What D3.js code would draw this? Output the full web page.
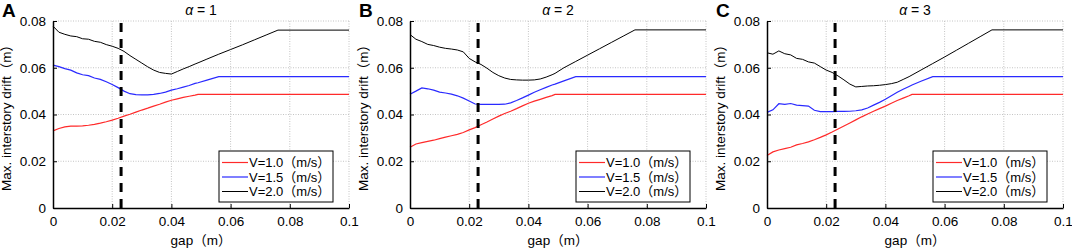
<!DOCTYPE html>
<html>
<head>
<meta charset="utf-8">
<script src="https://cdn.jsdelivr.net/npm/d3@7"></script>
<style>
  body { margin: 0; background: #fff; }
  svg { display: block; font-family: "Liberation Sans", Arial, "Noto Sans CJK JP", sans-serif; }
</style>
</head>
<body>
<div id="chart"></div>
<script>
// shared gap grid (m)
const gap = [0, .002, .004, .006, .008, .010, .012, .014, .016, .018, .020, .022, .024, .026, .028, .030, .032, .034,
  .036, .038, .040, .042, .044, .046, .048, .049, .052, .056, .060, .064, .068, .072, .076, .100];

// alpha = 1
const a1_v10 = [.0330, .0340, .0347, .0350, .0350, .0351, .0354, .0358, .0363, .0369, .0376, .0384, .0393, .0401, .0410, .0419, .0427, .0436,
  .0444, .0453, .0461, .0467, .0473, .0478, .0483, .0486, .0486, .0486, .0486, .0486, .0486, .0486, .0486, .0486];
const a1_v15 = [.0611, .0605, .0596, .0590, .0578, .0570, .0566, .0556, .0550, .0540, .0528, .0515, .0500, .0489, .0485, .0484, .0484, .0486,
  .0490, .0496, .0504, .0510, .0517, .0524, .0533, .0536, .0547, .0562, .0562, .0562, .0562, .0562, .0562, .0562];
const a1_v20 = [.0778, .0752, .0743, .0736, .0733, .0724, .0722, .0713, .0709, .0699, .0692, .0683, .0670, .0652, .0636, .0620, .0604, .0590,
  .0580, .0576, .0573, .0584, .0595, .0605, .0616, .0621, .0637, .0658, .0678, .0698, .0719, .0740, .0761, .0761];

// alpha = 2
const a2_v10 = [.0260, .0274, .0280, .0285, .0290, .0297, .0303, .0309, .0315, .0323, .0334, .0344, .0356, .0368, .0381, .0393, .0404, .0414,
  .0425, .0437, .0448, .0457, .0465, .0473, .0481, .0486, .0486, .0486, .0486, .0486, .0486, .0486, .0486, .0486];
const a2_v15 = [.0487, .0500, .0514, .0510, .0504, .0496, .0492, .0487, .0480, .0470, .0458, .0445, .0443, .0443, .0443, .0443, .0444, .0450,
  .0460, .0471, .0483, .0495, .0506, .0516, .0526, .0530, .0544, .0562, .0562, .0562, .0562, .0562, .0562, .0562];
const a2_v20 = [.0742, .0722, .0712, .0700, .0695, .0688, .0683, .0680, .0676, .0668, .0640, .0625, .0614, .0598, .0580, .0566, .0556, .0550,
  .0548, .0547, .0547, .0548, .0552, .0560, .0570, .0576, .0600, .0627, .0654, .0681, .0708, .0735, .0762, .0762];

// alpha = 3
const a3_v10 = [.0225, .0240, .0248, .0254, .0260, .0270, .0276, .0283, .0292, .0302, .0313, .0325, .0338, .0351, .0364, .0377, .0390, .0402,
  .0414, .0425, .0436, .0448, .0460, .0470, .0480, .0486, .0486, .0486, .0486, .0486, .0486, .0486, .0486, .0486];
const a3_v15 = [.0409, .0420, .0446, .0443, .0447, .0440, .0438, .0436, .0418, .0412, .0412, .0412, .0413, .0413, .0414, .0416, .0420, .0428,
  .0440, .0452, .0465, .0480, .0495, .0508, .0520, .0526, .0542, .0562, .0562, .0562, .0562, .0562, .0562, .0562];
const a3_v20 = [.0664, .0658, .0672, .0660, .0655, .0640, .0636, .0625, .0620, .0605, .0590, .0580, .0565, .0548, .0530, .0518, .0520, .0522,
  .0523, .0525, .0528, .0532, .0538, .0550, .0562, .0569, .0590, .0618, .0646, .0675, .0704, .0733, .0762, .0762];

const letters = ["A", "B", "C"];
const alphas = ["1", "2", "3"];
const seriesNames = ["V=1.0（m/s）", "V=1.5（m/s）", "V=2.0（m/s）"];
const seriesColors = ["#ff2a2a", "#2a2aff", "#000000"];
const xTicks = [0, 0.02, 0.04, 0.06, 0.08, 0.1];
const yTicks = [0, 0.02, 0.04, 0.06, 0.08];
const designGap = 0.023;

const panels = [
  [a1_v10, a1_v15, a1_v20],
  [a2_v10, a2_v15, a2_v20],
  [a3_v10, a3_v15, a3_v20]
];

const width = 1072, height = 250;
const lefts = [53, 410, 767];
const letterX = [2, 359, 716];
const plotW = 296, plotTop = 21, plotBottom = 208;

const svg = d3.select("#chart").append("svg")
    .attr("width", width)
    .attr("height", height);

panels.forEach((series, p) => {
  const x = d3.scaleLinear().domain([0, 0.1]).range([lefts[p], lefts[p] + plotW]);
  const y = d3.scaleLinear().domain([0, 0.08]).range([plotBottom, plotTop]);
  const g = svg.append("g");

  // dotted grid
  g.append("g")
      .attr("stroke", "#c4c4c4")
      .attr("stroke-dasharray", "1,1.5")
    .selectAll("line")
    .data(xTicks.slice(1))
    .join("line")
      .attr("x1", d => x(d)).attr("x2", d => x(d))
      .attr("y1", plotTop).attr("y2", plotBottom);
  g.append("g")
      .attr("stroke", "#c4c4c4")
      .attr("stroke-dasharray", "1,1.5")
    .selectAll("line")
    .data(yTicks.slice(1))
    .join("line")
      .attr("x1", x(0)).attr("x2", x(0.1))
      .attr("y1", d => y(d)).attr("y2", d => y(d));

  // data lines
  const line = d3.line().x((d, i) => x(gap[i])).y(d => y(d));
  series.forEach((vals, k) => {
    g.append("path")
        .attr("fill", "none")
        .attr("stroke", seriesColors[k])
        .attr("stroke-width", k === 2 ? 1 : 1.2)
        .attr("d", line(vals));
  });

  // design gap marker
  g.append("line")
      .attr("x1", x(designGap)).attr("x2", x(designGap))
      .attr("y1", y(0.08) + 2).attr("y2", plotBottom)
      .attr("stroke", "#000")
      .attr("stroke-width", 3)
      .attr("stroke-dasharray", "9,7");

  // axes
  const xAxis = g.append("g")
      .attr("transform", `translate(0,${plotBottom})`)
      .call(d3.axisBottom(x).tickValues(xTicks).tickFormat(d3.format("~g")).tickSizeInner(-4).tickSizeOuter(0).tickPadding(8));
  const yAxis = g.append("g")
      .attr("transform", `translate(${lefts[p]},0)`)
      .call(d3.axisLeft(y).tickValues(yTicks).tickFormat(d3.format("~g")).tickSizeInner(-4).tickSizeOuter(0).tickPadding(7));
  [xAxis, yAxis].forEach(a => {
    a.select(".domain").attr("stroke-width", 1.5);
    a.selectAll("text").attr("font-size", 13.5).attr("fill", "#000")
      .attr("font-family", "Liberation Sans, Arial, sans-serif");
  });

  // axis titles
  g.append("text")
      .attr("x", lefts[p] + plotW / 2)
      .attr("y", 245)
      .attr("text-anchor", "middle")
      .attr("font-size", 13.5)
      .text("gap（m）");
  g.append("text")
      .attr("transform", `translate(${lefts[p] - 42},${(plotTop + plotBottom) / 2}) rotate(-90)`)
      .attr("text-anchor", "middle")
      .attr("font-size", 13.5)
      .text("Max. interstory drift（m）");

  // title
  const t = g.append("text")
      .attr("x", lefts[p] + plotW / 2)
      .attr("y", 15)
      .attr("text-anchor", "middle")
      .attr("font-size", 14);
  t.append("tspan").attr("font-style", "italic").text("α");
  t.append("tspan").text(" = " + alphas[p]);

  // panel letter
  g.append("text")
      .attr("x", letterX[p])
      .attr("y", 17)
      .attr("font-size", 19)
      .attr("font-weight", "bold")
      .text(letters[p]);

  // legend
  const lx = lefts[p] + plotW - 130, ly = 151;
  const leg = g.append("g").attr("transform", `translate(${lx},${ly})`);
  leg.append("rect")
      .attr("width", 114).attr("height", 51)
      .attr("fill", "#fff").attr("stroke", "#000").attr("stroke-width", 1);
  seriesNames.forEach((name, k) => {
    const cy = 11.5 + k * 14.5;
    leg.append("line")
        .attr("x1", 3).attr("x2", 29).attr("y1", cy).attr("y2", cy)
        .attr("stroke", seriesColors[k]).attr("stroke-width", k === 2 ? 1 : 1.2);
    leg.append("text")
        .attr("x", 30).attr("y", cy + 4.5)
        .attr("font-size", 13)
        .text(name);
  });
});
</script>
</body>
</html>
